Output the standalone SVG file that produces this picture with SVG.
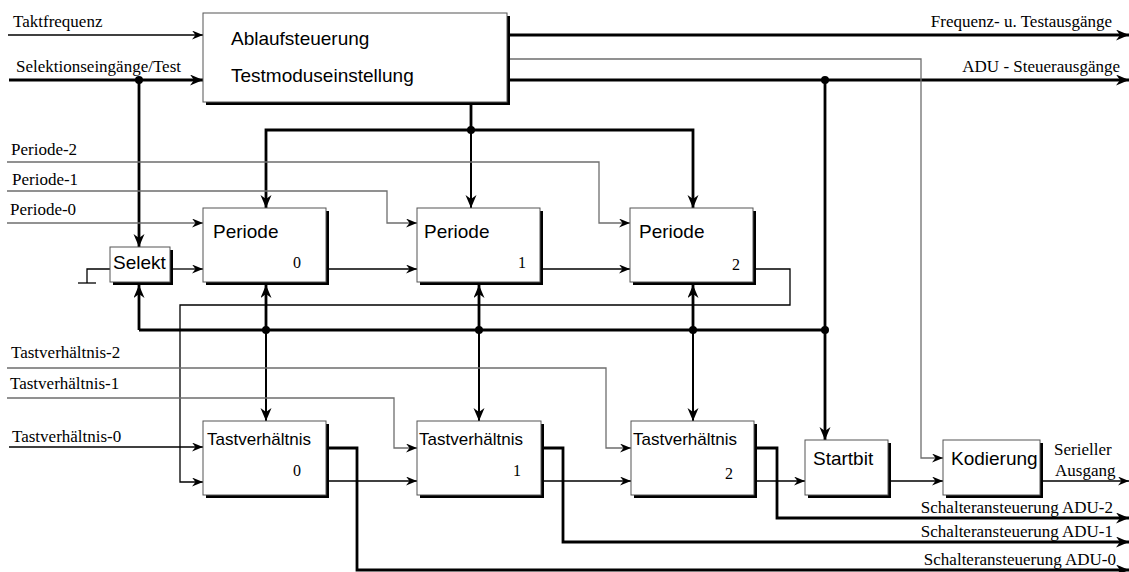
<svg xmlns="http://www.w3.org/2000/svg" width="1129" height="572" viewBox="0 0 1129 572">
<style>
.bg{fill:#fff}
.sh{fill:#000}
.box{fill:#fff;stroke:#555;stroke-width:1}
.bt{font-family:"Liberation Sans",Arial,sans-serif;font-size:19px;fill:#000}
.bt2{font-family:"Liberation Sans",Arial,sans-serif;font-size:17px;fill:#000}
.num{font-family:"Liberation Serif","Times New Roman",serif;font-size:16px;fill:#000}
.lbl{font-family:"Liberation Serif","Times New Roman",serif;font-size:17px;fill:#000}
.lbs{font-family:"Liberation Serif","Times New Roman",serif;font-size:17px;fill:#000}
.thin{fill:none;stroke:#000;stroke-width:1.3}
.gray{fill:none;stroke:#6e6e6e;stroke-width:1.3}
.thick{fill:none;stroke:#000;stroke-width:2.8}
.mid{fill:none;stroke:#000;stroke-width:2}
.ar{marker-end:url(#ah)}
.arT{marker-end:url(#ahT)}
</style>
<defs>
<marker id="ah" markerUnits="userSpaceOnUse" markerWidth="12" markerHeight="10" refX="11" refY="4.5" orient="auto">
<path d="M0,0 L11,4.5 L0,9 L3.5,4.5 Z" fill="#000"/>
</marker>
<marker id="ahT" markerUnits="userSpaceOnUse" markerWidth="14" markerHeight="12" refX="13" refY="5.5" orient="auto">
<path d="M0,0 L13,5.5 L0,11 L4,5.5 Z" fill="#000"/>
</marker>
</defs>
<rect class="bg" x="0" y="0" width="1129" height="572"/>

<g id="connectors">
<line class="thin ar" x1="8" y1="35" x2="203" y2="35"/>
<line class="thick arT" x1="9" y1="80" x2="203" y2="80"/>
<line class="thick arT" x1="509" y1="35" x2="1129" y2="35"/>
<line class="thick arT" x1="509" y1="80" x2="1129" y2="80"/>
<polyline class="gray ar" points="509,59 921,59 921,458 943,458"/>
<line class="thick arT" x1="139" y1="80" x2="139" y2="247"/>
<line class="thick" x1="471" y1="105" x2="471" y2="130"/>
<polyline class="thick arT" points="471,130 266,130 266,208"/>
<polyline class="thick arT" points="471,130 693,130 693,208"/>
<line class="mid arT" x1="471" y1="130" x2="471" y2="208"/>
<polyline class="gray ar" points="7,162 599,162 599,223 630,223"/>
<polyline class="gray ar" points="7,191 387,191 387,223 417,223"/>
<line class="gray ar" x1="7" y1="223" x2="203" y2="223"/>
<polyline class="thin" points="110,269 87,269 87,283"/>
<line class="thin" x1="78" y1="283" x2="96" y2="283"/>
<line class="thin ar" x1="173" y1="269" x2="203" y2="269"/>
<line class="thin ar" x1="329" y1="269" x2="417" y2="269"/>
<line class="thin ar" x1="543" y1="269" x2="630" y2="269"/>
<polyline class="thin ar" points="756,269 790,269 790,305 180,305 180,482 203,482"/>
<line class="thick" x1="139" y1="330" x2="825" y2="330"/>
<line class="thick arT" x1="139" y1="330" x2="139" y2="285"/>
<line class="thick arT" x1="825" y1="80" x2="825" y2="440"/>
<line class="thick arT" x1="266" y1="330" x2="266" y2="285"/>
<line class="thick arT" x1="479" y1="330" x2="479" y2="285"/>
<line class="thick arT" x1="693" y1="330" x2="693" y2="285"/>
<line class="mid arT" x1="266" y1="330" x2="266" y2="421"/>
<line class="mid arT" x1="479" y1="330" x2="479" y2="421"/>
<line class="mid arT" x1="693" y1="330" x2="693" y2="421"/>
<polyline class="gray ar" points="7,368 606,368 606,448 631,448"/>
<polyline class="gray ar" points="7,398 394,398 394,448 417,448"/>
<line class="thin ar" x1="9" y1="447" x2="203" y2="447"/>
<line class="thin ar" x1="329" y1="481" x2="417" y2="481"/>
<line class="thin ar" x1="544" y1="481" x2="631" y2="481"/>
<line class="thin ar" x1="757" y1="481" x2="805" y2="481"/>
<line class="thin ar" x1="891" y1="481" x2="943" y2="481"/>
<line class="thin ar" x1="1043" y1="481" x2="1129" y2="481"/>
<polyline class="thick arT" points="757,448 777,448 777,518 1129,518"/>
<polyline class="thick arT" points="544,448 563,448 563,542 1129,542"/>
<polyline class="thick arT" points="329,448 357,448 357,570 1129,570"/>
<circle cx="139" cy="80" r="4"/>
<circle cx="825" cy="80" r="4"/>
<circle cx="471" cy="130" r="4"/>
<circle cx="266" cy="330" r="4"/>
<circle cx="479" cy="330" r="4"/>
<circle cx="693" cy="330" r="4"/>
<circle cx="825" cy="330" r="4"/>
</g>

<g id="labels">
<text class="lbl" x="13" y="27">Taktfrequenz</text>
<text class="lbl" x="16" y="72">Selektionseingänge/Test</text>
<text class="lbl" x="1112" y="27" text-anchor="end">Frequenz- u. Testausgänge</text>
<text class="lbl" x="1120" y="72" text-anchor="end">ADU - Steuerausgänge</text>
<text class="lbl" x="11" y="155">Periode-2</text>
<text class="lbl" x="12" y="185">Periode-1</text>
<text class="lbl" x="10" y="215">Periode-0</text>
<text class="lbl" x="11" y="358">Tastverhältnis-2</text>
<text class="lbl" x="10" y="389">Tastverhältnis-1</text>
<text class="lbl" x="12" y="442">Tastverhältnis-0</text>
<text class="lbs" x="1054" y="455">Serieller</text>
<text class="lbs" x="1055" y="476">Ausgang</text>
<text class="lbl" x="1113" y="513" text-anchor="end">Schalteransteuerung ADU-2</text>
<text class="lbl" x="1113" y="537" text-anchor="end">Schalteransteuerung ADU-1</text>
<text class="lbl" x="1116" y="565" text-anchor="end">Schalteransteuerung ADU-0</text>
</g>

<g id="ablauf">
<rect class="sh" x="206" y="16" width="304" height="89"/>
<rect class="box" x="203" y="13" width="304" height="89"/>
<text class="bt" x="231" y="45">Ablaufsteuerung</text>
<text class="bt" x="231" y="82">Testmoduseinstellung</text>
</g>

<g id="selekt">
<rect class="sh" x="113" y="250" width="60" height="35"/>
<rect class="box" x="110" y="247" width="60" height="35"/>
<text class="bt" x="113" y="269">Selekt</text>
</g>

<g id="periode0">
<rect class="sh" x="206" y="211" width="123" height="74"/>
<rect class="box" x="203" y="208" width="123" height="74"/>
<text class="bt" x="213" y="238">Periode</text>
<text class="num" x="293" y="268">0</text>
</g>
<g id="periode1">
<rect class="sh" x="420" y="211" width="123" height="74"/>
<rect class="box" x="417" y="208" width="123" height="74"/>
<text class="bt" x="424" y="238">Periode</text>
<text class="num" x="518" y="268">1</text>
</g>
<g id="periode2">
<rect class="sh" x="633" y="211" width="123" height="74"/>
<rect class="box" x="630" y="208" width="123" height="74"/>
<text class="bt" x="639" y="238">Periode</text>
<text class="num" x="732" y="270">2</text>
</g>

<g id="tast0">
<rect class="sh" x="206" y="424" width="123" height="74"/>
<rect class="box" x="203" y="421" width="123" height="74"/>
<text class="bt2" x="207" y="445">Tastverhältnis</text>
<text class="num" x="293" y="476">0</text>
</g>
<g id="tast1">
<rect class="sh" x="420" y="424" width="124" height="74"/>
<rect class="box" x="417" y="421" width="124" height="74"/>
<text class="bt2" x="419" y="445">Tastverhältnis</text>
<text class="num" x="513" y="476">1</text>
</g>
<g id="tast2">
<rect class="sh" x="634" y="424" width="123" height="74"/>
<rect class="box" x="631" y="421" width="123" height="74"/>
<text class="bt2" x="633" y="445">Tastverhältnis</text>
<text class="num" x="725" y="479">2</text>
</g>

<g id="startbit">
<rect class="sh" x="808" y="443" width="83" height="55"/>
<rect class="box" x="805" y="440" width="83" height="55"/>
<text class="bt" x="813" y="465">Startbit</text>
</g>
<g id="kodierung">
<rect class="sh" x="946" y="443" width="97" height="55"/>
<rect class="box" x="943" y="440" width="97" height="55"/>
<text class="bt" x="951" y="465">Kodierung</text>
</g>
</svg>
